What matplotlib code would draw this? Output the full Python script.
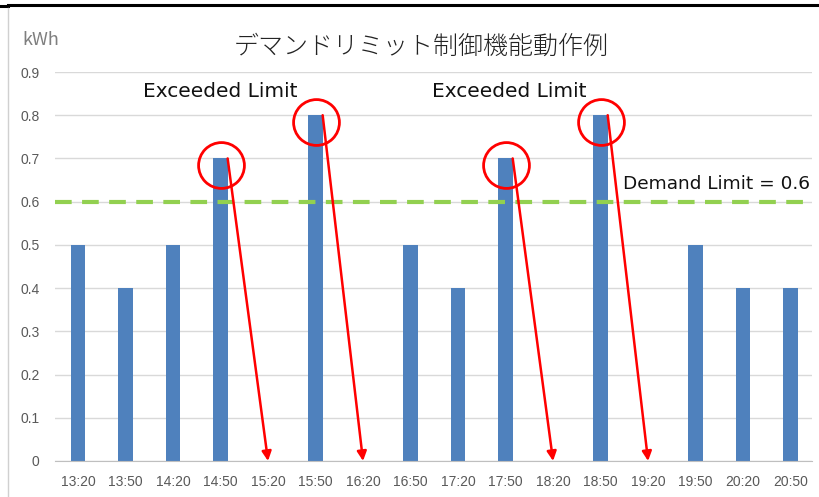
import matplotlib.pyplot as plt
from matplotlib.lines import Line2D

plt.rcParams['font.family'] = ['Noto Sans CJK JP', 'DejaVu Sans']

# 30-minute demand readings
times = ["13:20", "13:50", "14:20", "14:50", "15:20", "15:50", "16:20", "16:50",
         "17:20", "17:50", "18:20", "18:50", "19:20", "19:50", "20:20", "20:50"]
usage = [0.5, 0.4, 0.5, 0.7, 0.0, 0.8, 0.0, 0.5,
         0.4, 0.7, 0.0, 0.8, 0.0, 0.5, 0.4, 0.4]
demand_limit = 0.6
yticks = [0, 0.1, 0.2, 0.3, 0.4, 0.5, 0.6, 0.7, 0.8, 0.9]
ytick_labels = ["0", "0.1", "0.2", "0.3", "0.4", "0.5", "0.6", "0.7", "0.8", "0.9"]

# slots over the limit and the slot where control cuts the load
exceeded = [3, 5, 9, 11]
cut_to = [4, 6, 10, 12]

BLUE = "#4F81BD"
GRID = "#D9D9D9"
TICK = "#595959"
BAR_W = 0.3

fig = plt.figure(figsize=(8.2, 4.97), dpi=100)
ax = fig.add_axes([55 / 820, 1 - 461 / 497, (812 - 55) / 820, (461 - 72) / 497])

x = list(range(len(times)))
ax.bar(x, usage, width=BAR_W, color=BLUE, zorder=2)

ax.set_xlim(-0.484, 15.45)
ax.set_ylim(0, 0.9)
ax.set_yticks(yticks)
ax.set_yticklabels(ytick_labels)
ax.set_xticks(x)
ax.set_xticklabels(times)
ax.tick_params(axis="both", length=0, labelsize=10, labelcolor=TICK)
ax.tick_params(axis="x", pad=10)
ax.tick_params(axis="y", pad=11)
for lbl in ax.get_xticklabels() + ax.get_yticklabels():
    lbl.set_family("Liberation Sans")

ax.grid(axis="y", color=GRID, lw=1, zorder=0)
for side in ["top", "right", "left"]:
    ax.spines[side].set_visible(False)
ax.spines["bottom"].set_color("#BFBFBF")

# demand limit line
ax.axhline(demand_limit, color="#92D050", lw=3, ls=(0, (4, 2.5)), zorder=3)
ax.text(11.47, demand_limit + 0.02, "Demand Limit = 0.6", fontsize=13.3,
        family="DejaVu Sans", color="#111111", ha="left", va="bottom",
        clip_on=False)

# circles on bars over the limit, arrows to the next slot
for i, j in zip(exceeded, cut_to):
    ax.plot(i, usage[i] - 0.015, "o", ms=33, mfc="none", mec="red", mew=2,
            zorder=4, clip_on=False)
    ax.annotate("", xy=(j, 0), xytext=(i + BAR_W / 2, usage[i]),
                arrowprops=dict(arrowstyle="-|>", color="red", lw=1.8,
                                mutation_scale=14, shrinkA=0, shrinkB=0),
                zorder=5)

for xs in (1.37, 7.45):
    ax.text(xs, 0.855, "Exceeded Limit", fontsize=14.5, family="DejaVu Sans",
            color="#111111", ha="left", va="center")

fig.text(421 / 820, 1 - 47 / 497, "デマンドリミット制御機能動作例", fontsize=18,
         fontweight="light", color="#222222", ha="center", va="center")
fig.text(22 / 820, 1 - 40 / 497, "kWh", fontsize=13, color="#7F7F7F",
         ha="left", va="center")

# chart frame
fig.add_artist(Line2D([8 / 820, 1], [1 - 4.5 / 497] * 2, color="black", lw=2.2))
fig.add_artist(Line2D([0, 8 / 820], [1 - 6 / 497] * 2, color="black", lw=2.2))
fig.add_artist(Line2D([8 / 820] * 2, [0, 1 - 8 / 497], color="#D0D0D0", lw=1))

fig.savefig("out.png", dpi=100)
